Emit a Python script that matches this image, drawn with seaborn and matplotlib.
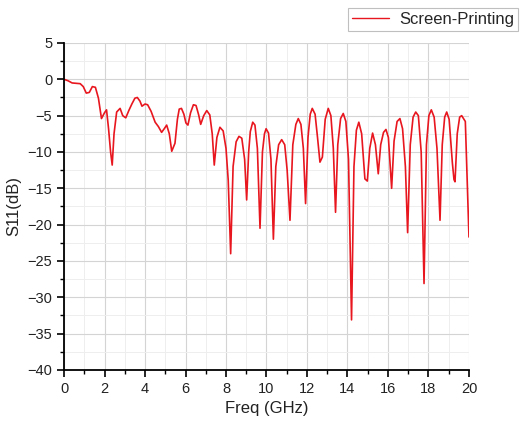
import matplotlib
matplotlib.use("Agg")
import matplotlib.pyplot as plt
from matplotlib.ticker import MultipleLocator
import seaborn as sns
import pandas as pd

# Measured reflection coefficient of the screen-printed antenna
freq_ghz = [
    0.0, 0.2, 0.4, 0.6, 0.8, 0.95, 1.1, 1.25, 1.4, 1.55,
    1.7, 1.85, 2.0, 2.1, 2.2, 2.3, 2.38, 2.47, 2.6, 2.77,
    2.9, 3.05, 3.2, 3.35, 3.5, 3.62, 3.75, 3.85, 4.0, 4.13,
    4.3, 4.5, 4.66, 4.82, 4.95, 5.07, 5.2, 5.32, 5.48, 5.6,
    5.69, 5.8, 5.92, 6.02, 6.12, 6.25, 6.39, 6.52, 6.65, 6.75,
    6.9, 7.05, 7.2, 7.32, 7.42, 7.55, 7.7, 7.86, 8.0, 8.11,
    8.23, 8.35, 8.5, 8.64, 8.78, 8.92, 9.02, 9.12, 9.2, 9.32,
    9.43, 9.55, 9.68, 9.8, 9.9, 9.98, 10.1, 10.22, 10.34, 10.46,
    10.6, 10.75, 10.9, 11.02, 11.16, 11.3, 11.45, 11.57, 11.7, 11.82,
    11.93, 12.05, 12.16, 12.26, 12.4, 12.52, 12.64, 12.76, 12.9, 13.05,
    13.18, 13.3, 13.41, 13.52, 13.66, 13.79, 13.92, 14.05, 14.2, 14.32,
    14.44, 14.56, 14.7, 14.86, 14.98, 15.1, 15.24, 15.38, 15.52, 15.64,
    15.78, 15.9, 16.02, 16.18, 16.3, 16.45, 16.59, 16.72, 16.86, 16.97,
    17.1, 17.24, 17.37, 17.5, 17.64, 17.78, 17.9, 18.02, 18.14, 18.28,
    18.42, 18.57, 18.68, 18.8, 18.9, 19.02, 19.18, 19.26, 19.31, 19.42,
    19.54, 19.64, 19.82, 20.0,
]
s11_db = [
    0.0, -0.2, -0.5, -0.55, -0.6, -1.0, -1.9, -1.8, -1.0, -1.1,
    -2.6, -5.4, -4.6, -4.2, -6.8, -10.0, -11.8, -7.5, -4.5, -4.0,
    -5.0, -5.3, -4.3, -3.4, -2.6, -2.5, -3.0, -3.7, -3.4, -3.5,
    -4.4, -5.9, -6.5, -7.3, -6.8, -6.3, -7.5, -9.9, -8.8, -5.5,
    -4.1, -4.0, -4.8, -6.0, -6.3, -4.6, -3.5, -3.6, -4.9, -6.2,
    -5.0, -4.3, -4.9, -7.5, -11.8, -8.0, -6.6, -7.1, -9.5, -13.9,
    -24.0, -12.0, -8.6, -7.85, -8.1, -11.0, -16.6, -10.0, -7.2, -5.9,
    -6.3, -9.5, -20.5, -10.0, -7.5, -6.8, -7.4, -11.0, -22.0, -12.0,
    -9.0, -8.3, -9.0, -12.5, -19.4, -9.0, -6.2, -5.4, -6.2, -9.5,
    -17.1, -8.0, -4.8, -4.0, -4.8, -8.0, -11.4, -10.7, -5.5, -4.0,
    -5.0, -9.5, -18.3, -9.0, -5.4, -4.7, -5.8, -11.0, -33.1, -12.0,
    -7.0, -5.9, -7.5, -13.7, -14.0, -9.5, -7.4, -9.0, -13.0, -9.0,
    -7.3, -6.9, -8.0, -15.0, -8.5, -5.8, -5.4, -6.8, -12.0, -21.1,
    -9.0, -5.2, -4.5, -5.0, -10.0, -28.1, -9.0, -5.0, -4.2, -5.2,
    -9.5, -19.4, -9.0, -5.2, -4.5, -5.5, -11.5, -13.8, -14.1, -7.5,
    -5.2, -5.0, -5.8, -21.7,
]
series_name = "Screen-Printing"

df = pd.DataFrame({"Freq": freq_ghz, "S11": s11_db, "Sample": series_name})

sns.set_style("ticks")
plt.rcParams["font.family"] = ["Liberation Sans", "DejaVu Sans"]

fig = plt.figure(figsize=(5.23, 4.26), dpi=100)
ax = fig.add_axes([0.1224, 0.1315, 0.7743, 0.7676])

sns.lineplot(data=df, x="Freq", y="S11", hue="Sample", palette=["#e8161e"],
             sort=False, estimator=None, linewidth=1.2, ax=ax)

ax.set_xlim(0, 20)
ax.set_ylim(-40, 5)
ax.xaxis.set_major_locator(MultipleLocator(2))
ax.xaxis.set_minor_locator(MultipleLocator(1))
ax.yaxis.set_major_locator(MultipleLocator(5))
ax.yaxis.set_minor_locator(MultipleLocator(2.5))

ax.grid(which="major", color="#d4d4d4", linewidth=0.8)
ax.grid(which="minor", color="#eeeeee", linewidth=0.7)
ax.set_axisbelow(True)

for side in ("top", "right"):
    ax.spines[side].set_visible(False)
for side in ("left", "bottom"):
    ax.spines[side].set_color("black")
    ax.spines[side].set_linewidth(1.3)

ax.tick_params(which="major", direction="out", length=5, width=1.2,
               labelsize=10.5, colors="black", labelcolor="#222222")
ax.tick_params(which="minor", direction="out", length=3, width=1.0, colors="black")

ax.set_xlabel("Freq (GHz)", fontsize=12, color="#222222")
ax.set_ylabel("S11(dB)", fontsize=12, color="#222222", labelpad=4)

leg = ax.legend(loc="upper right", bbox_to_anchor=(1.121, 1.107), frameon=True,
                fancybox=False, edgecolor="#b0b0b0", fontsize=12,
                handlelength=2.2, borderpad=0.25, borderaxespad=0.0,
                handletextpad=0.6)
leg.get_frame().set_linewidth(0.8)
for line in leg.get_lines():
    line.set_linewidth(1.0)

fig.savefig("out.png", dpi=100)
